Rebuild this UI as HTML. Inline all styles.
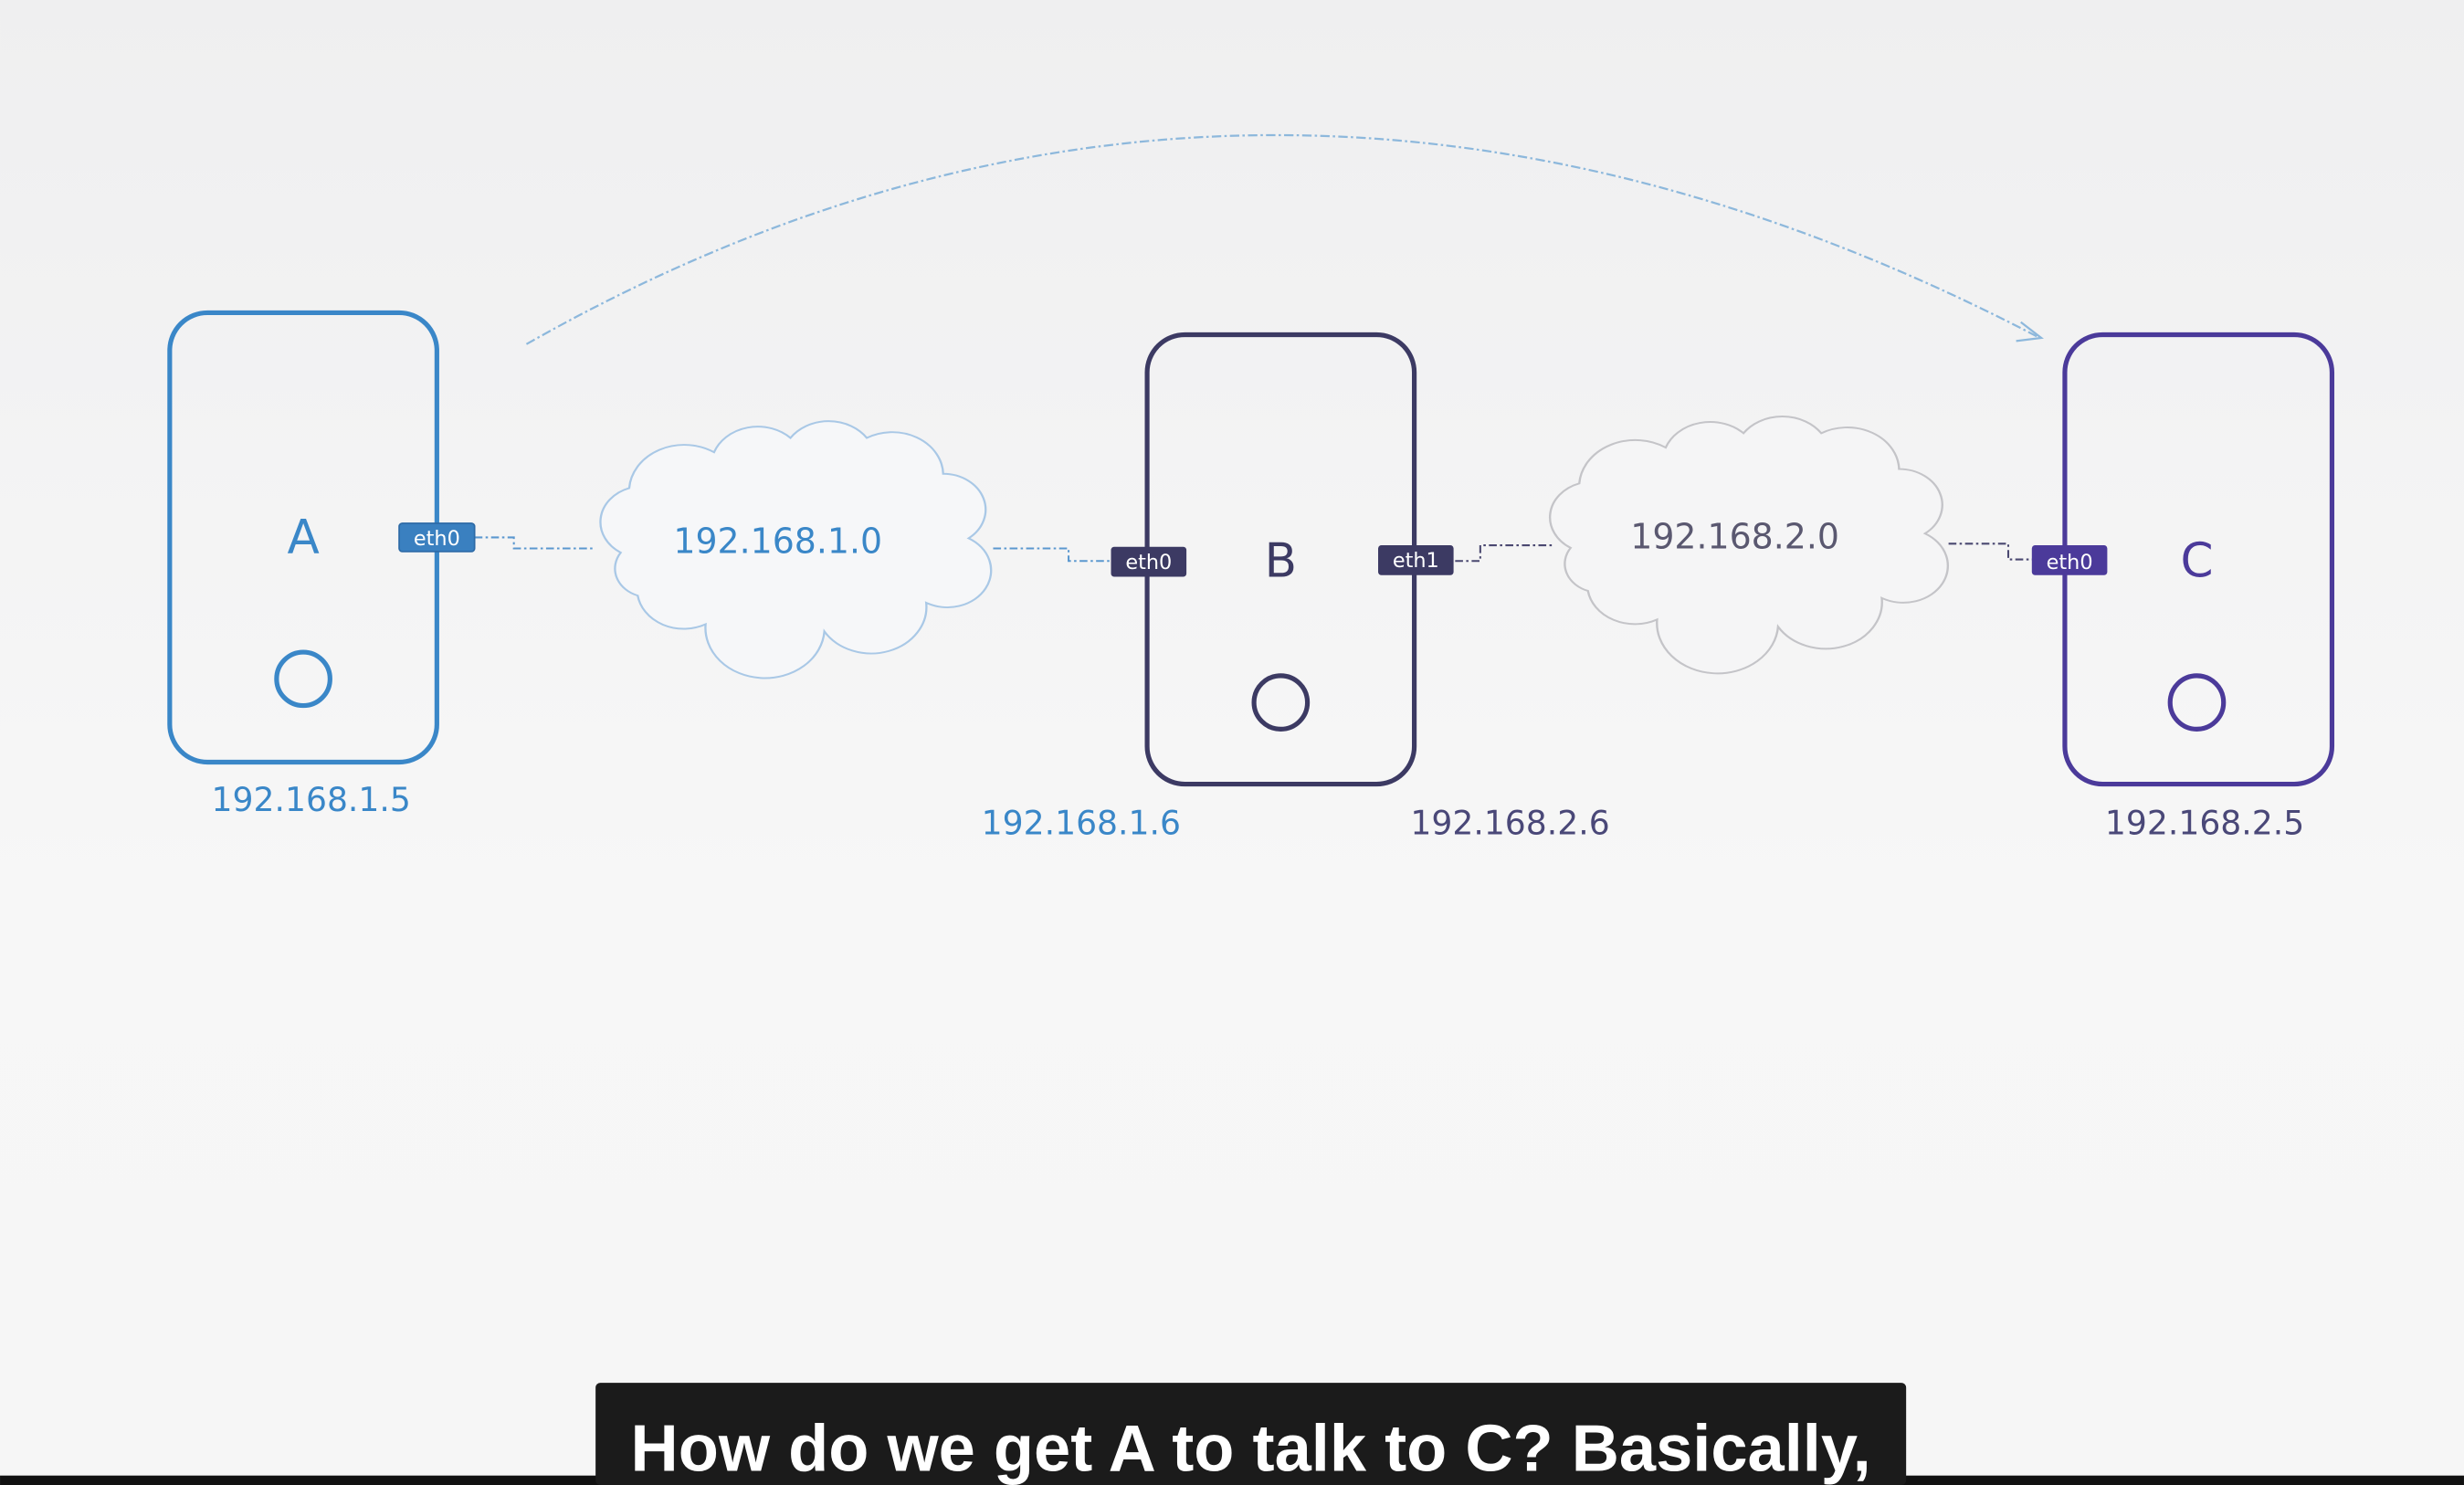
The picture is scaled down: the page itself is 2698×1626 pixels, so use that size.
<!DOCTYPE html>
<html><head><style>
html,body{margin:0;padding:0;width:2698px;height:1626px;overflow:hidden;background:#f4f4f5}
svg{display:block}
text{font-family:"DejaVu Sans","Liberation Sans",sans-serif}
</style></head><body>
<svg width="2698" height="1626" viewBox="0 0 1568 945" xmlns="http://www.w3.org/2000/svg">
<defs>
<linearGradient id="bg" x1="0" y1="0" x2="0" y2="1">
<stop offset="0" stop-color="#efeff0"/><stop offset="0.6" stop-color="#f7f7f7"/><stop offset="1" stop-color="#f6f6f6"/>
</linearGradient>
<path id="cloud" d="M 10 38 A 10 10 0 0 1 12 20 A 13 13 0 0 1 32 10 A 11 11 0 0 1 50 6 A 11 11 0 0 1 68 6 A 12 12 0 0 1 86 16 A 10 10 0 0 1 92 34 A 10 10 0 0 1 82 52 A 13 13 0 0 1 58 60 A 14 14 0 0 1 30 58 A 11 11 0 0 1 14 50 A 8 8 0 0 1 10 38 Z"/>
</defs>
<rect width="1568" height="945" fill="url(#bg)"/>

<path d="M335 219 Q 800 -45 1298 215" fill="none" stroke="#8db8dc" stroke-width="1.3" stroke-dasharray="6 2 1.5 2"/>
<path d="M1286 205 L1299 215 L1283 217" fill="none" stroke="#8db8dc" stroke-width="1.3"/>

<g transform="translate(368,265) scale(2.7,2.28)"><use href="#cloud" fill="#f6f7f9" stroke="#a9c8e6" stroke-width="0.5"/></g>
<g transform="translate(972,262) scale(2.75,2.28)"><use href="#cloud" fill="#f5f5f6" stroke="#c4c4c8" stroke-width="0.5"/></g>
<text x="495" y="352" font-size="22" fill="#3a87c8" text-anchor="middle">192.168.1.0</text>
<text x="1104" y="349" font-size="22" fill="#5a5870" text-anchor="middle">192.168.2.0</text>

<g fill="none" stroke-width="1.2" stroke-dasharray="5 2 1.5 2">
<path d="M302 342 H327 V349 H378" stroke="#5b98cf"/>
<path d="M632 349 H680 V357 H708" stroke="#5b98cf"/>
<path d="M926 357 H942 V347 H988" stroke="#4a4870"/>
<path d="M1240 346 H1278 V356 H1294" stroke="#4a4870"/>
</g>

<rect x="108" y="199" width="170" height="286" rx="24" fill="none" stroke="#3a87c8" stroke-width="3"/>
<text x="193" y="352" font-size="30" fill="#3a87c8" text-anchor="middle">A</text>
<circle cx="193" cy="432" r="17" fill="none" stroke="#3a87c8" stroke-width="3"/>
<rect x="254" y="333" width="48" height="18" rx="2" fill="#3a80c0" stroke="#2d6aa6"/>
<text x="278" y="347" font-size="13" fill="#fff" text-anchor="middle">eth0</text>
<text x="198" y="516" font-size="21" fill="#3a87c8" text-anchor="middle">192.168.1.5</text>

<rect x="730" y="213" width="170" height="286" rx="24" fill="none" stroke="#3c3a63" stroke-width="3"/>
<text x="815" y="367" font-size="30" fill="#3c3a63" text-anchor="middle">B</text>
<circle cx="815" cy="447" r="17" fill="none" stroke="#3c3a63" stroke-width="3"/>
<rect x="707" y="348" width="48" height="19" rx="2" fill="#3c3a63"/>
<text x="731" y="362" font-size="13" fill="#fff" text-anchor="middle">eth0</text>
<rect x="877" y="347" width="48" height="19" rx="2" fill="#3c3a63"/>
<text x="901" y="361" font-size="13" fill="#fff" text-anchor="middle">eth1</text>
<text x="688" y="531" font-size="21" fill="#3a87c8" text-anchor="middle">192.168.1.6</text>
<text x="961" y="531" font-size="21" fill="#4a4878" text-anchor="middle">192.168.2.6</text>

<rect x="1314" y="213" width="170" height="286" rx="24" fill="none" stroke="#4b3a9a" stroke-width="3"/>
<text x="1398" y="367" font-size="30" fill="#4b3a9a" text-anchor="middle">C</text>
<circle cx="1398" cy="447" r="17" fill="none" stroke="#4b3a9a" stroke-width="3"/>
<rect x="1293" y="347" width="48" height="19" rx="2" fill="#4b3a9a"/>
<text x="1317" y="362" font-size="13" fill="#fff" text-anchor="middle">eth0</text>
<text x="1403" y="531" font-size="21" fill="#4a4878" text-anchor="middle">192.168.2.5</text>

<rect x="0" y="939" width="1568" height="6" fill="#111"/>
<rect x="379" y="880" width="834" height="65" rx="3" fill="#1b1b1b"/>
<text x="796" y="936" font-size="42" font-weight="bold" fill="#fff" text-anchor="middle" style="font-family:'Liberation Sans',sans-serif">How do we get A to talk to C? Basically,</text>
</svg>
</body></html>
